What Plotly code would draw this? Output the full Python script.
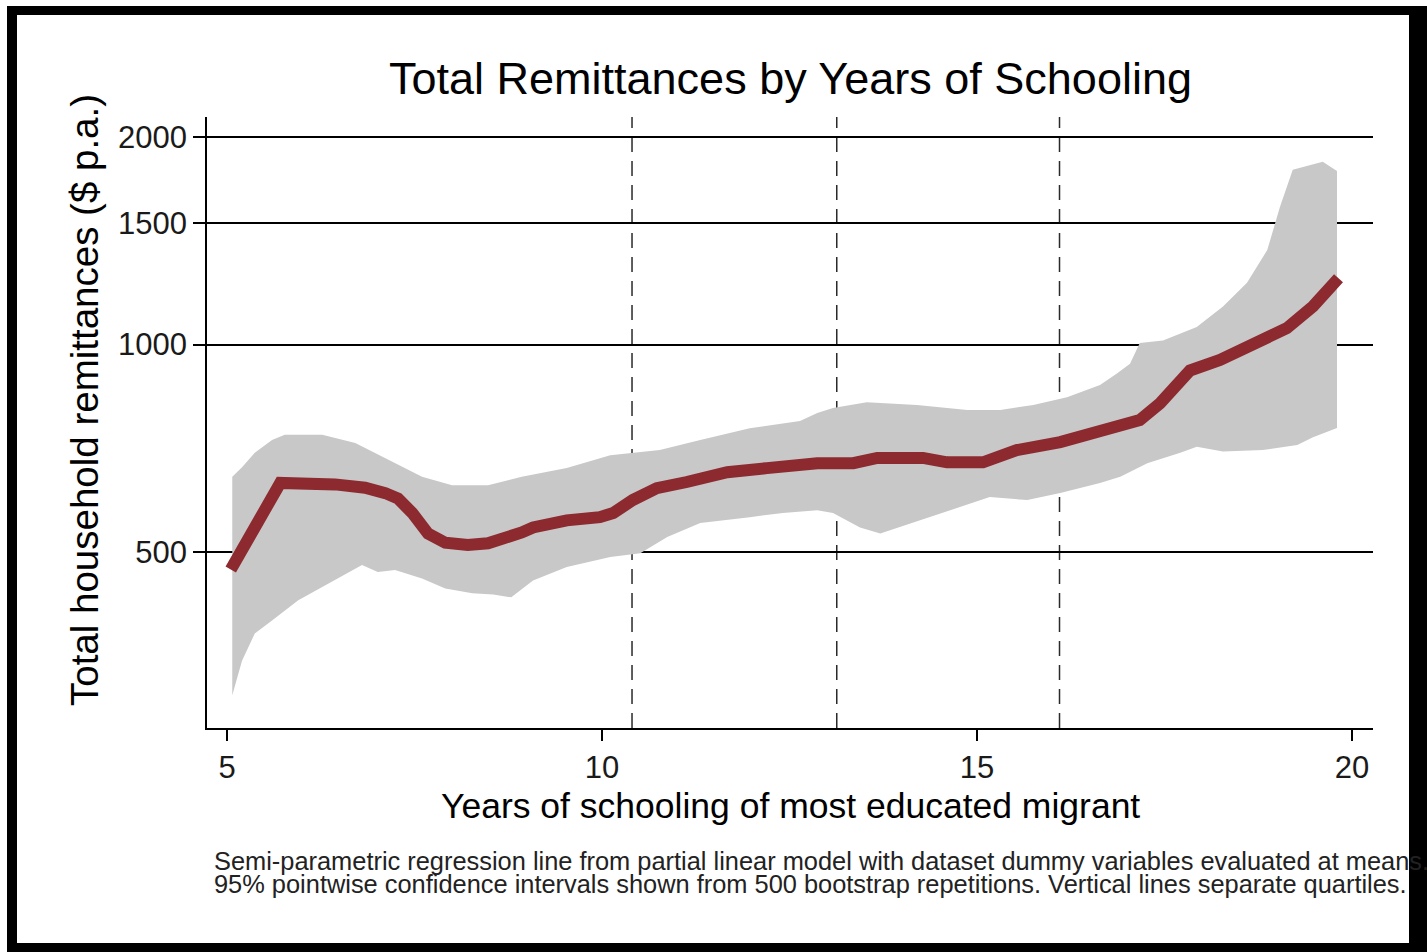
import plotly.graph_objects as go

# Semi-parametric fit: years of schooling vs. total household remittances ($ p.a.)
fit_years = [5.05, 5.71, 6.44, 6.84, 7.11, 7.28, 7.47, 7.68, 7.91, 8.21, 8.48, 8.71,
             8.93, 9.08, 9.53, 9.97, 10.15, 10.41, 10.73, 11.13, 11.67, 12.2, 12.87,
             13.35, 13.67, 14.28, 14.6, 15.08, 15.53, 16.11, 16.64, 16.91, 17.17,
             17.44, 17.67, 17.84, 18.24, 18.6, 19.13, 19.48, 19.82]
fit_remit = [472, 630, 627, 620, 609, 598, 570, 532, 516, 512, 515, 522,
             534, 543, 556, 562, 570, 595, 619, 632, 653, 662, 673,
             673, 685, 685, 675, 675, 703, 722, 747, 760, 777,
             822, 881, 917, 950, 991, 1056, 1136, 1248]

# Upper 95% bootstrap bound
upper_years = [5.07, 5.2, 5.37, 5.6, 5.77, 6.27, 6.71, 7.15, 7.6, 8.0, 8.48, 8.93,
               9.53, 10.11, 10.77, 11.31, 11.97, 12.64, 12.87, 13.08, 13.53, 14.2,
               14.87, 15.31, 15.75, 16.2, 16.64, 16.87, 17.04, 17.17, 17.48, 17.93,
               18.28, 18.6, 18.87, 19.04, 19.21, 19.61, 19.77, 19.8]
upper_remit = [643, 664, 697, 727, 740, 740, 720, 680, 643, 625, 625, 643,
               662, 691, 703, 727, 756, 775, 796, 809, 825, 817,
               804, 804, 817, 839, 874, 909, 938, 1005, 1014, 1060,
               1136, 1229, 1371, 1584, 1793, 1842, 1793, 1785]

# Lower 95% bootstrap bound
lower_years = [5.07, 5.2, 5.37, 5.6, 5.95, 6.27, 6.8, 7.01, 7.24, 7.6, 7.91, 8.27,
               8.55, 8.79, 9.08, 9.53, 10.11, 10.51, 10.87, 11.31, 11.97, 12.41,
               12.87, 13.08, 13.44, 13.71, 14.11, 14.64, 15.17, 15.67, 16.11, 16.64,
               16.91, 17.27, 17.71, 17.93, 18.28, 18.81, 19.27, 19.48, 19.8]
lower_remit = [310, 348, 381, 398, 426, 445, 479, 468, 471, 458, 443, 436,
               434, 430, 455, 476, 492, 498, 526, 551, 562, 570,
               575, 570, 543, 532, 551, 575, 601, 595, 609, 630,
               643, 673, 697, 711, 700, 703, 715, 734, 757]

# Quartile boundaries of schooling
quartile_cuts = [10.4, 13.13, 16.1]

x_ticks = [5, 10, 15, 20]
y_ticks = [500, 1000, 1500, 2000]

FONT = "Liberation Sans, Arial, sans-serif"
W, H = 1427, 952
L, R, T, B = 207, 1373, 117, 728


def px(xp):
    return (xp - L) / (R - L)


def py(yp):
    return (B - yp) / (B - T)


fig = go.Figure()

band_x = upper_years + lower_years[::-1]
band_y = upper_remit + lower_remit[::-1]
fig.add_trace(go.Scatter(
    x=band_x, y=band_y, mode="lines", fill="toself",
    fillcolor="#c8c8c8", line=dict(width=0, color="#c8c8c8"),
    hoverinfo="skip", showlegend=False,
))
fig.add_trace(go.Scatter(
    x=fit_years, y=fit_remit, mode="lines",
    line=dict(color="#8c2a30", width=12),
    showlegend=False,
))

for q in quartile_cuts:
    fig.add_shape(type="line", xref="x", yref="paper", x0=q, x1=q, y0=0, y1=1,
                  line=dict(color="#2a2a2a", width=1.5, dash="15px,9px"),
                  layer="below")

# Outer black frame
frame = [
    (7, 1432, 6, 15),
    (7, 17, 6, 960),
    (1409, 1432, 6, 960),
    (7, 1432, 943, 960),
]
for x0, x1, y0, y1 in frame:
    fig.add_shape(type="rect", xref="paper", yref="paper",
                  x0=px(x0), x1=px(x1), y0=py(y1), y1=py(y0),
                  fillcolor="black", line=dict(width=0), layer="above")

fig.add_annotation(text="Total Remittances by Years of Schooling",
                   xref="paper", yref="paper", x=px(790), y=py(78),
                   xanchor="center", yanchor="middle", showarrow=False,
                   font=dict(family=FONT, size=45, color="black"))
fig.add_annotation(text="Total household remittances ($ p.a.)",
                   xref="paper", yref="paper", x=px(84), y=py(400),
                   xanchor="center", yanchor="middle", textangle=-90, showarrow=False,
                   font=dict(family=FONT, size=38.5, color="black"))
fig.add_annotation(text="Years of schooling of most educated migrant",
                   xref="paper", yref="paper", x=px(790), y=py(806),
                   xanchor="center", yanchor="middle", showarrow=False,
                   font=dict(family=FONT, size=35.5, color="black"))
fig.add_annotation(text="Semi-parametric regression line from partial linear model with dataset dummy variables evaluated at means.",
                   xref="paper", yref="paper", x=px(212), y=py(861),
                   xanchor="left", yanchor="middle", showarrow=False,
                   font=dict(family=FONT, size=25.4, color="#222222"))
fig.add_annotation(text="95% pointwise confidence intervals shown from 500 bootstrap repetitions. Vertical lines separate quartiles.",
                   xref="paper", yref="paper", x=px(212), y=py(884),
                   xanchor="left", yanchor="middle", showarrow=False,
                   font=dict(family=FONT, size=25.4, color="#222222"))

fig.update_xaxes(
    range=[4.733, 20.28], tickvals=x_ticks, ticktext=[str(v) for v in x_ticks],
    showgrid=False, zeroline=False, showline=True, linecolor="black", linewidth=1.5,
    ticks="outside", ticklen=11, tickwidth=1.5, tickcolor="black",
    tickfont=dict(family=FONT, size=31, color="#1a1a1a"),
)
fig.update_yaxes(
    type="log", range=[2.444, 3.330], tickvals=y_ticks, ticktext=[str(v) for v in y_ticks],
    showgrid=True, gridcolor="black", gridwidth=1.5, zeroline=False,
    showline=True, linecolor="black", linewidth=1.5,
    ticks="outside", ticklen=12, tickwidth=1.5, tickcolor="black",
    tickfont=dict(family=FONT, size=31, color="#1a1a1a"),
)
fig.update_layout(
    width=W, height=H, autosize=False,
    margin=dict(l=L, r=W - R, t=T, b=H - B),
    paper_bgcolor="white", plot_bgcolor="white",
    showlegend=False,
)

fig.write_html("out.html")
